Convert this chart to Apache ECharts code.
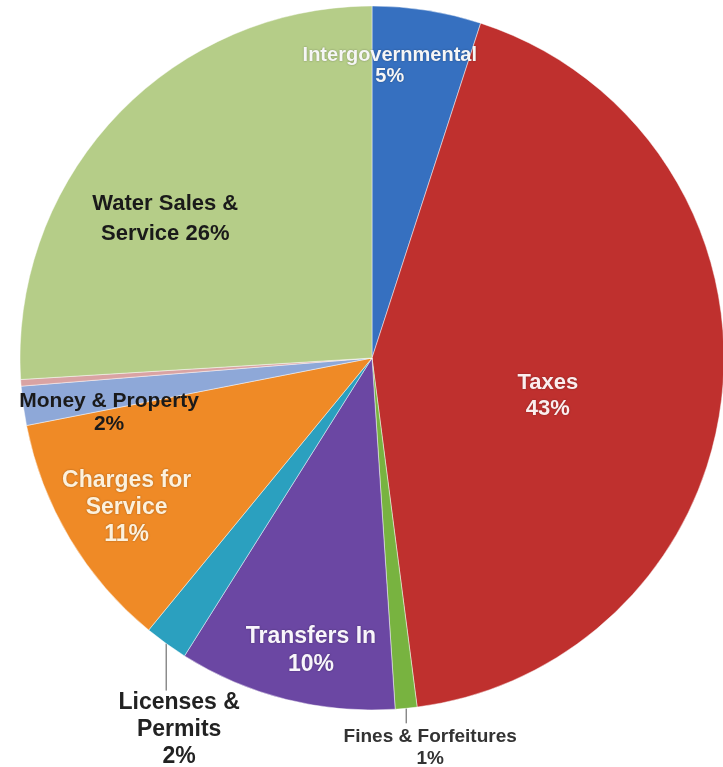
<!DOCTYPE html>
<html>
<head>
<meta charset="utf-8">
<script src="https://cdn.jsdelivr.net/npm/echarts@6/dist/echarts.min.js"></script>
<style>
html,body{margin:0;padding:0;background:#fff;}
#chart{width:723px;height:767px;}
</style>
</head>
<body>
<div id="chart"></div>
<script>
// ---- data ----
const categories = ['Intergovernmental', 'Taxes', 'Fines & Forfeitures', 'Transfers In', 'Licenses & Permits', 'Charges for Service', 'Money & Property', 'Other', 'Water Sales & Service'];
const values = [5, 43, 1, 10, 2, 11, 1.8, 0.3, 26];
const labelTexts = ['Intergovernmental\n{p}', 'Taxes\n{p}', 'Fines & Forfeitures\n{p}', 'Transfers In\n{p}', 'Licenses &\nPermits\n{p}', 'Charges for\nService\n{p}', 'Money & Property\n{p}', '', 'Water Sales &\nService {p}'];

// ---- styles ----
const colors = ['#3670c0', '#bf302e', '#78b340', '#6b47a3', '#2ba0bf', '#ef8a26', '#8ea8d8', '#d9a3a3', '#b5cd88'];
const labelColors = ['#f6f6f6', '#fbeeee', '#333333', '#f8f5fb', '#222222', '#fdf1dc', '#1a1a1a', '#000', '#1a1a1a'];
const labelSizes = [20, 22, 19, 23, 23, 23, 21, 12, 22];
const labelLH = [21, 26, 22, 28, 27, 27, 23, 14, 30];
const place = [
  {rf: 0.831, da: -5.5},
  {rf: 0.511, da: 6.8},
  {out: true, len: 15, dx: 24, dy: 39},
  {rf: 0.848, da: -2.4},
  {out: true, len: 47, dx: 13, dy: 86},
  {rf: 0.817, da: -0.6},
  {rf: 0.763, da: -4},
  null,
  {rf: 0.708, da: -9.3}
];
const CX = 372, CY = 358, R = 352;

const total = values.reduce((a, b) => a + b, 0);
const midAngles = [];
let acc = 0;
values.forEach(v => { midAngles.push((acc + v / 2) / total * 360); acc += v; });

function pt(angDeg, r) {
  const a = angDeg * Math.PI / 180;
  return [CX + r * Math.sin(a), CY - r * Math.cos(a)];
}

const shadowed = [true, true, false, true, false, true, false, false, false];

const data = categories.map((name, i) => {
  const p = place[i];
  return {
    name: name,
    value: values[i],
    itemStyle: {color: colors[i]},
    label: {
      show: !!p,
      position: p && p.out ? 'outside' : 'inside',
      color: labelColors[i],
      fontSize: labelSizes[i],
      lineHeight: labelLH[i],
      textShadowColor: shadowed[i] ? 'rgba(0,0,0,0.35)' : 'transparent',
      textShadowBlur: shadowed[i] ? 2 : 0
    },
    labelLine: {show: !!(p && p.out)}
  };
});

const chart = echarts.init(document.getElementById('chart'), null, {renderer: 'canvas'});
chart.setOption({
  backgroundColor: '#ffffff',
  animation: false,
  series: [{
    type: 'pie',
    center: [CX, CY],
    radius: R,
    startAngle: 90,
    clockwise: true,
    avoidLabelOverlap: false,
    itemStyle: {borderColor: 'rgba(255,255,255,0.45)', borderWidth: 1},
    label: {
      fontFamily: '"Liberation Sans", Arial, sans-serif',
      fontWeight: 'bold',
      align: 'center',
      formatter: function (params) {
        const t = labelTexts[params.dataIndex];
        return t.replace('{p}', Math.round(params.value) + '%');
      }
    },
    labelLine: {
      show: false,
      lineStyle: {color: '#555555', width: 1}
    },
    emphasis: {disabled: true},
    data: data,
    labelLayout: function (params) {
      const i = params.dataIndex;
      const p = place[i];
      if (!p) return {};
      if (p.out) {
        const p0 = pt(midAngles[i], R);
        const p1 = [p0[0], p0[1] + p.len];
        return {
          x: p0[0] + p.dx,
          y: p0[1] + p.dy,
          align: 'center',
          verticalAlign: 'middle',
          labelLinePoints: [p0, p1, p1]
        };
      }
      const q = pt(midAngles[i] + p.da, R * p.rf);
      return {x: q[0], y: q[1], align: 'center', verticalAlign: 'middle'};
    }
  }]
});
</script>
</body>
</html>
